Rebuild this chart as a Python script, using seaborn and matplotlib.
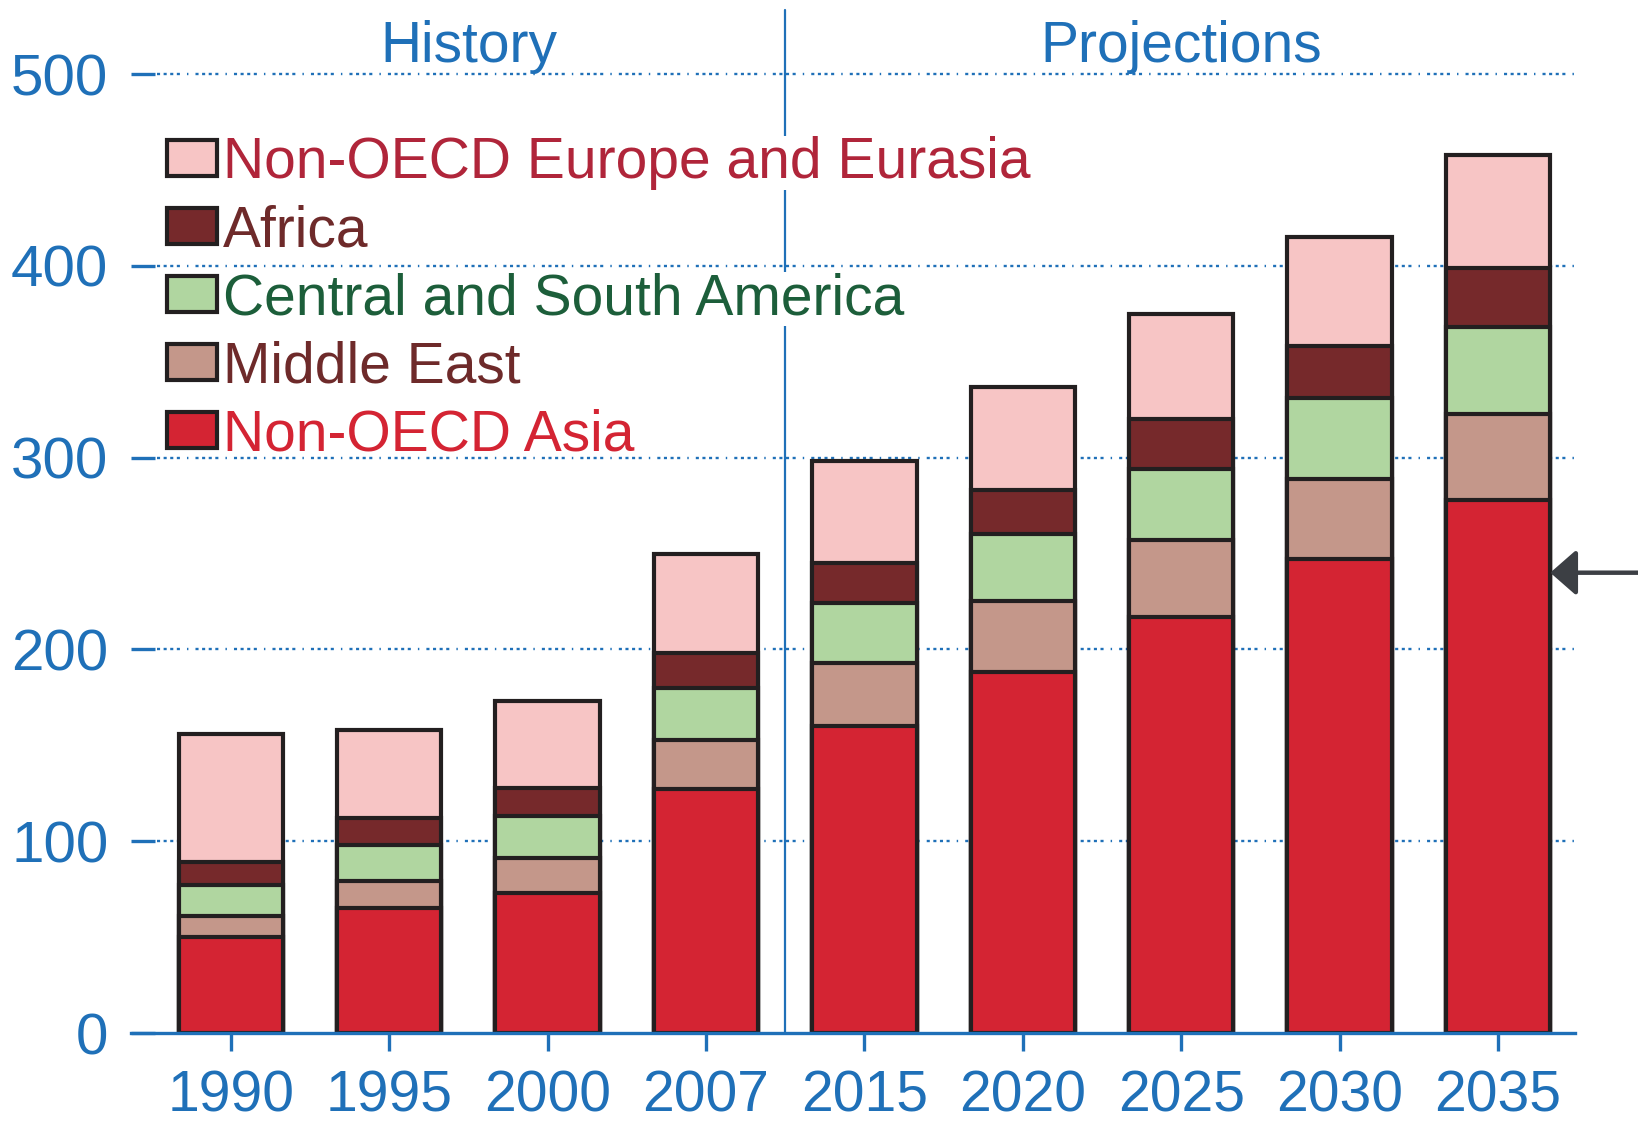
import matplotlib
matplotlib.use("Agg")
import matplotlib.pyplot as plt
from matplotlib.patches import Patch
import seaborn as sns
import pandas as pd
import numpy as np

years = ["1990", "1995", "2000", "2007", "2015", "2020", "2025", "2030", "2035"]
non_oecd_asia = [50, 65, 73, 127, 160, 188, 217, 247, 278]
middle_east = [11, 14, 18, 26, 33, 37, 40, 42, 45]
central_south_america = [16, 19, 22, 27, 31, 35, 37, 42, 45]
africa = [12, 14, 15, 18, 21, 23, 26, 27, 31]
non_oecd_europe_eurasia = [67, 46, 45, 52, 53, 54, 55, 57, 59]

series_names = ["Non-OECD Asia", "Middle East", "Central and South America",
                "Africa", "Non-OECD Europe and Eurasia"]
series_values = [non_oecd_asia, middle_east, central_south_america, africa,
                 non_oecd_europe_eurasia]
fill_colors = ["#d42433", "#c4978a", "#b0d6a0", "#76292b", "#f7c5c5"]
text_colors = ["#d42433", "#6e2a2a", "#1c5e3a", "#6e2a2a", "#b0253a"]
yticks = [0, 100, 200, 300, 400, 500]

BLUE = "#1f70b8"
EDGE = "#231f20"

sns.set_style("white")
plt.rcParams["font.family"] = ["Liberation Sans", "DejaVu Sans"]

fig = plt.figure(figsize=(16.38, 11.21), dpi=100)
ax = fig.add_axes([0.0797, 0.0785, 0.882, 0.9215])

cum = np.cumsum(np.array(series_values), axis=0)
# draw from top layer downwards so lower layers overlay
for i in reversed(range(len(series_names))):
    df = pd.DataFrame({"year": years, "value": cum[i]})
    sns.barplot(data=df, x="year", y="value", color=fill_colors[i], ax=ax,
                width=0.66, edgecolor=EDGE, linewidth=3.0, saturation=1,
                zorder=7)

ax.set_xlim(-0.633, 8.488)
ax.set_ylim(0, 538.6)
ax.set_xlabel("")
ax.set_ylabel("")
ax.set_yticks(yticks)
ax.set_yticklabels([str(v) for v in yticks])

for v in yticks[1:]:
    ax.axhline(v, xmin=0.018, xmax=1.0, color=BLUE, lw=1.7,
               ls=(0, (1.3, 1.5, 1.3, 1.5, 1.3, 1.5, 1.3, 3.0, 0.6, 3.0)), zorder=6)

ax.axvline(3.5, ymin=0, ymax=0.99, color=BLUE, lw=1.6, zorder=4)

for s in ["top", "right", "left"]:
    ax.spines[s].set_visible(False)
ax.spines["bottom"].set_color(BLUE)
ax.spines["bottom"].set_linewidth(2.4)
ax.spines["bottom"].set_zorder(8)

ax.tick_params(axis="y", direction="in", length=17, width=2.4, color=BLUE,
               labelcolor=BLUE, labelsize=42, pad=16, left=True)
ax.tick_params(axis="x", direction="out", length=13, width=2.4, color=BLUE,
               labelcolor=BLUE, labelsize=41, pad=13, bottom=True)

ax.text(1.5, 514, "History", color=BLUE, fontsize=41, ha="center", va="center")
ax.text(6.0, 514, "Projections", color=BLUE, fontsize=41, ha="center", va="center")

order = [4, 3, 2, 1, 0]
handles = [Patch(facecolor=fill_colors[i], edgecolor=EDGE, linewidth=3.0) for i in order]
labels = [series_names[i] for i in order]
leg = ax.legend(handles, labels, loc="upper left", bbox_to_anchor=(0.0252, 0.868),
                frameon=False, fontsize=41, handlelength=0.88, handleheight=0.6,
                handletextpad=0.1, labelspacing=0.245, borderpad=0, borderaxespad=0)
leg.set_zorder(5)
for t, i in zip(leg.get_texts(), order):
    t.set_color(text_colors[i])
    t.set_bbox(dict(facecolor="white", edgecolor="none", pad=0))

ax.annotate("", xy=(8.33, 240), xycoords="data",
            xytext=(1.0, 240), textcoords=("figure fraction", "data"),
            arrowprops=dict(arrowstyle="-|>,head_length=0.8,head_width=0.7",
                            mutation_scale=20, color="#3c3f44", lw=3.2,
                            shrinkA=0, shrinkB=0),
            annotation_clip=False, zorder=9)

fig.savefig("out.png", dpi=100)
